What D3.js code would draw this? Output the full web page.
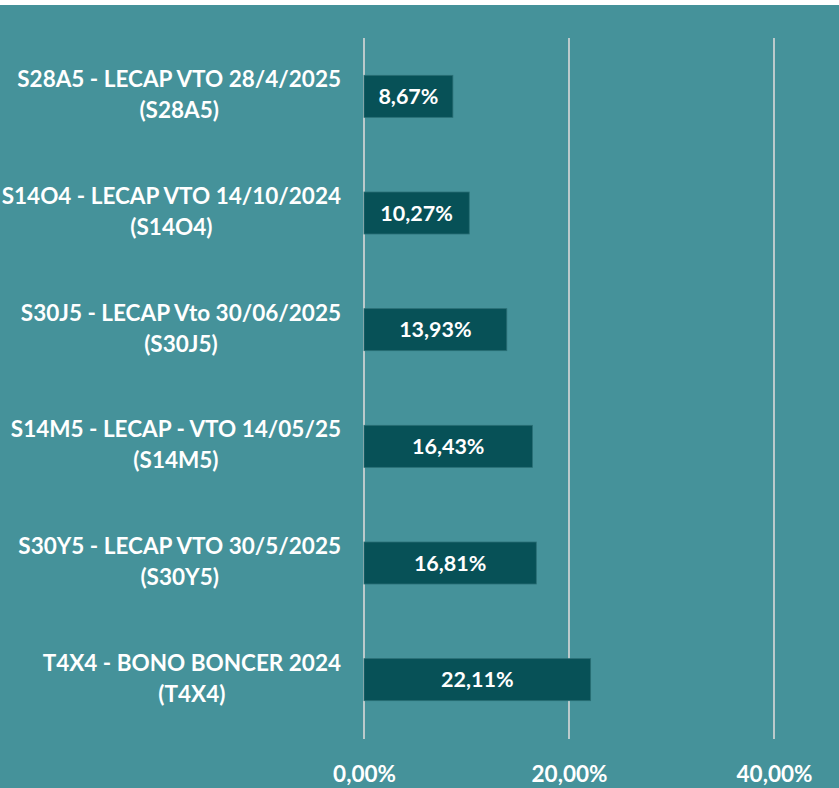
<!DOCTYPE html>
<html>
<head>
<meta charset="utf-8">
<script src="https://cdn.jsdelivr.net/npm/d3@7"></script>
<style>
  html, body { margin: 0; padding: 0; background: #fff; }
  svg { display: block; }
  text { font-family: Lato, "Open Sans", sans-serif; font-weight: bold; fill: #fff; }
</style>
</head>
<body>
<svg id="chart"></svg>
<script>
// data
var names = [
    "S28A5 - LECAP VTO 28/4/2025",
    "S14O4 - LECAP VTO 14/10/2024",
    "S30J5 - LECAP Vto 30/06/2025",
    "S14M5 - LECAP - VTO 14/05/25",
    "S30Y5 - LECAP VTO 30/5/2025",
    "T4X4 - BONO BONCER 2024"
];
var codes = ["(S28A5)", "(S14O4)", "(S30J5)", "(S14M5)", "(S30Y5)", "(T4X4)"];
var values = [8.67, 10.27, 13.93, 16.43, 16.81, 22.11];
var ticks = [0, 20, 40];

var svgWidth = 839, svgHeight = 788;
var fmt = function (v) { return v.toFixed(2).replace(".", ",") + "%"; };

var svg = d3.select("#chart")
    .attr("width", svgWidth)
    .attr("height", svgHeight);

// teal background (white strip on top)
svg.append("rect")
    .attr("x", 0).attr("y", 5)
    .attr("width", svgWidth).attr("height", svgHeight - 5)
    .attr("fill", "#45929a");

var x = d3.scaleLinear()
    .domain([0, 40])
    .range([364, 774]);

var y = d3.scaleBand()
    .domain(names)
    .range([38, 738])
    .paddingInner(0.64)
    .paddingOuter(0.32);

// gridlines
svg.append("g")
    .selectAll("line")
    .data(ticks)
    .enter().append("line")
      .attr("x1", function (d) { return x(d); })
      .attr("x2", function (d) { return x(d); })
      .attr("y1", 38)
      .attr("y2", 739)
      .attr("stroke", "#d9d9d9")
      .attr("stroke-width", 1.6);

// x axis labels
var xAxis = d3.axisBottom(x)
    .tickValues(ticks)
    .tickSize(0)
    .tickPadding(0)
    .tickFormat(fmt);

var gx = svg.append("g")
    .attr("transform", "translate(0,766)")
    .call(xAxis);
gx.select(".domain").remove();
gx.selectAll("text")
    .attr("dy", "0.71em")
    .attr("font-size", 22.5)
    .attr("font-family", null)
    .attr("fill", null);

// bars
var data = names.map(function (n, i) { return { name: n, code: codes[i], value: values[i] }; });

svg.append("g")
    .selectAll("rect")
    .data(data)
    .enter().append("rect")
      .attr("x", x(0))
      .attr("y", function (d) { return y(d.name); })
      .attr("width", function (d) { return x(d.value) - x(0); })
      .attr("height", y.bandwidth())
      .attr("fill", "#075157")
      .attr("stroke", "#2a6f75")
      .attr("stroke-width", 0.8);

// value labels
svg.append("g")
    .selectAll("text")
    .data(data)
    .enter().append("text")
      .attr("x", function (d) { return (x(0) + x(d.value)) / 2; })
      .attr("y", function (d) { return y(d.name) + y.bandwidth() / 2; })
      .attr("dy", "0.36em")
      .attr("text-anchor", "middle")
      .attr("font-size", 21.5)
      .text(function (d) { return fmt(d.value); });

// category labels: two lines, block right edge at 341, lines centred
var cat = svg.append("g")
    .selectAll("g")
    .data(data)
    .enter().append("g");

cat.each(function (d) {
    var g = d3.select(this);
    var cy = y(d.name) + y.bandwidth() / 2;
    var t1 = g.append("text")
        .attr("y", cy - 9)
        .attr("text-anchor", "middle")
        .attr("font-size", 22.5)
        .text(d.name);
    var w = t1.node().getComputedTextLength();
    var cx = 341 - w / 2;
    t1.attr("x", cx);
    g.append("text")
        .attr("x", cx)
        .attr("y", cy + 22)
        .attr("text-anchor", "middle")
        .attr("font-size", 22.5)
        .text(d.code);
});
</script>
</body>
</html>
